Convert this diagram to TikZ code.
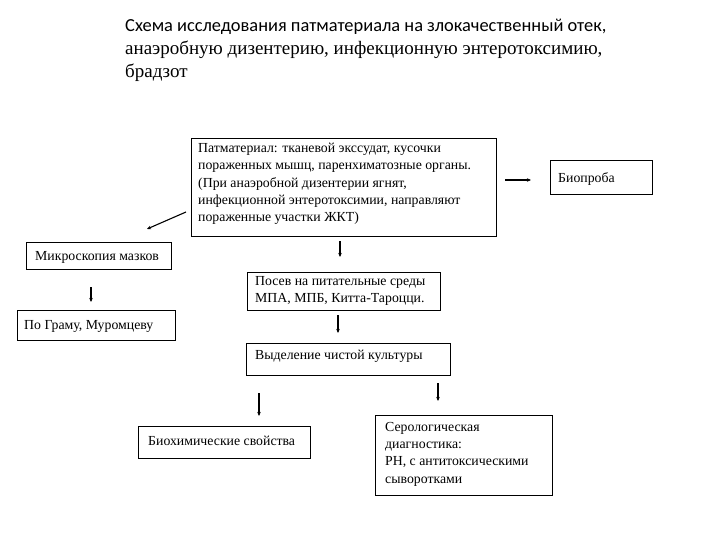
\documentclass[tikz,border=0pt]{standalone}
\usepackage{fontspec}
\setmainfont{Liberation Serif}
\newfontfamily\titlesans{Carlito}
\usetikzlibrary{arrows.meta}
\tikzset{
  boxn/.style={draw, line width=0.8pt, anchor=north west, inner sep=0pt},
  txt/.style={anchor=north west, align=left, inner sep=0pt, font=\fontsize{13.8}{17.3}\selectfont},
  arr/.style={line width=1.1pt, -{Stealth[length=4pt,width=3.5pt]}}
}
\begin{document}
\begin{tikzpicture}[x=1pt,y=-1pt]
\useasboundingbox (0,0) rectangle (720,540);
% title
\node[anchor=north west, align=left, inner sep=0pt, font=\fontsize{19}{23}\selectfont] (title) at (125,19)
 {{\titlesans\fontsize{18.4}{23}\selectfont Схема исследования патматериала на злокачественный отек,}\\
  анаэробную дизентерию, инфекционную энтеротоксимию,\\
  брадзот};
% boxes
\node[boxn, minimum width=305, minimum height=98] (pat) at (191,138) {};
\node[txt] (patt) at (198,143) {Патматериал: тканевой экссудат, кусочки\\пораженных мышц, паренхиматозные органы.\\(При анаэробной дизентерии ягнят,\\инфекционной энтеротоксимии, направляют\\пораженные участки ЖКТ)};
\node[boxn, minimum width=102, minimum height=34] (bio) at (550,160) {};
\node[txt] (biot) at (558,172) {Биопроба};
\node[boxn, minimum width=145, minimum height=27] (mic) at (26,242) {};
\node[txt] (mict) at (35,251) {Микроскопия мазков};
\node[boxn, minimum width=193, minimum height=38] (pos) at (247,272) {};
\node[txt] (post) at (255,276) {Посев на питательные среды\\МПА, МПБ, Китта-Тароцци.};
\node[boxn, minimum width=158, minimum height=30] (gram) at (17,310) {};
\node[txt] (gramt) at (24,320) {По Граму, Муромцеву};
\node[boxn, minimum width=204, minimum height=32] (vyd) at (246,343) {};
\node[txt] (vydt) at (255,350) {Выделение чистой культуры};
\node[boxn, minimum width=172, minimum height=32] (bioh) at (138,426) {};
\node[txt] (biohv) at (148,436) {Биохимические свойства};
\node[boxn, minimum width=177, minimum height=80] (ser) at (375,415) {};
\node[txt] (sert) at (385,422) {Серологическая\\диагностика:\\РН, с антитоксическими\\сыворотками};
% arrow end points
\coordinate (a1s) at (505,180); \coordinate (a1e) at (531,180);
\coordinate (a2s) at (186,212); \coordinate (a2e) at (147,229);
\coordinate (a3s) at (340,241); \coordinate (a3e) at (340,257);
\coordinate (a4s) at (91,287); \coordinate (a4e) at (91,302);
\coordinate (a5s) at (338,315); \coordinate (a5e) at (338,333);
\coordinate (a6s) at (259,393); \coordinate (a6e) at (259,416);
\coordinate (a7s) at (438,383); \coordinate (a7e) at (438,401);
\draw[arr] (a1s) -- (a1e);
\draw[arr] (a2s) -- (a2e);
\draw[arr] (a3s) -- (a3e);
\draw[arr] (a4s) -- (a4e);
\draw[arr] (a5s) -- (a5e);
\draw[arr] (a6s) -- (a6e);
\draw[arr] (a7s) -- (a7e);
\end{tikzpicture}
\end{document}
